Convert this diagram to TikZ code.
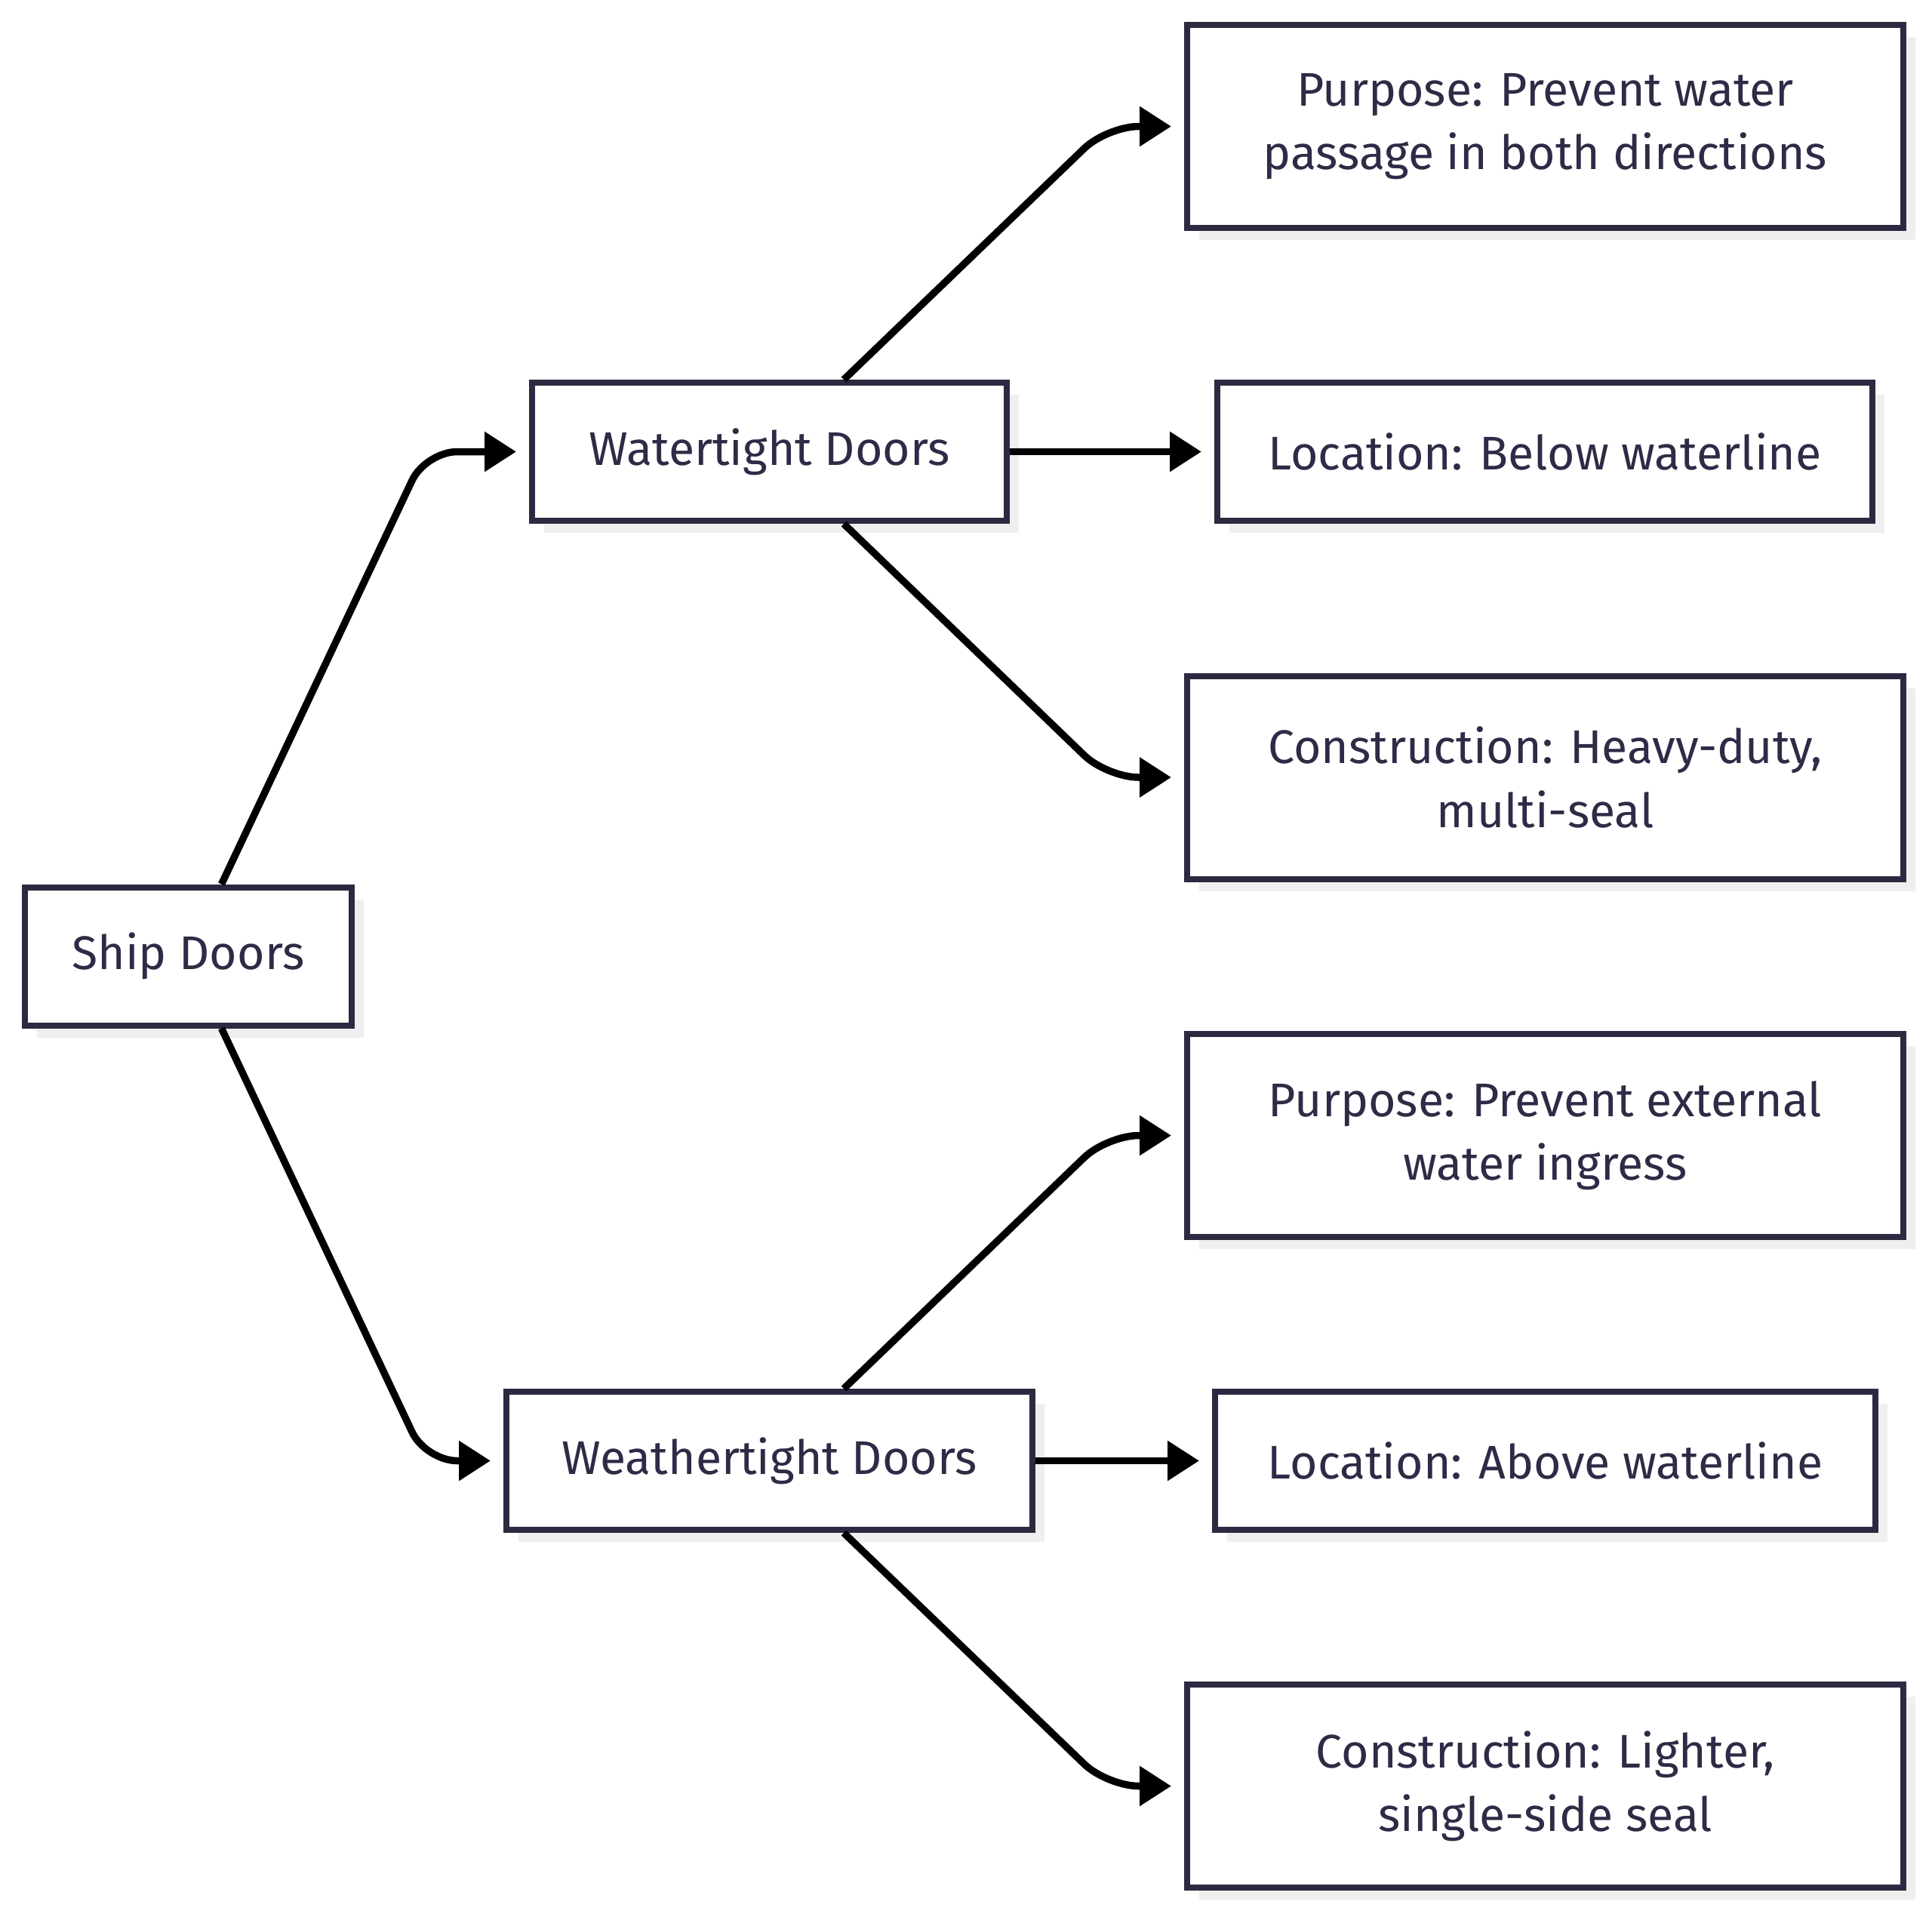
\documentclass[tikz,border=0pt]{standalone}
\usepackage{fontspec}
\setmainfont{Fira Sans}
\usetikzlibrary{shapes, arrows.meta, positioning, shadows}

\definecolor{boxline}{HTML}{2B2A40}
\definecolor{boxtext}{HTML}{2D2B45}
\definecolor{shade}{HTML}{EFEFEF}

\begin{document}
\begin{tikzpicture}
\tikzstyle{box} = [rectangle, draw=boxline, line width=0.08cm, fill=white, text=boxtext, align=center,
  minimum height=1.83cm, inner sep=0pt, font=\fontsize{17.8pt}{24pt}\selectfont,
  drop shadow={shadow xshift=0.16cm, shadow yshift=-0.16cm, fill=shade, opacity=1}]
\tikzstyle{tallbox} = [box, minimum height=2.69cm, minimum width=9.49cm]
\tikzstyle{arrow} = [line width=0.095cm, -{Triangle[length=0.42cm, width=0.51cm]}, shorten >=0.17cm, rounded corners=0.42cm]

\useasboundingbox (0,0) rectangle (25.6,-25.4);

\node [box, minimum width=4.33cm] (ship) at (2.495,-12.67) {Ship Doors};
\node [box, minimum width=6.29cm] (water) at (10.195,-5.985) {Watertight Doors};
\node [box, minimum width=6.97cm] (weather) at (10.195,-19.355) {Weathertight Doors};

\node [tallbox] (wpurpose) at (20.475,-1.675) {Purpose: Prevent water\\passage in both directions};
\node [box, minimum width=8.68cm] (wloc) at (20.47,-5.985) {Location: Below waterline};
\node [tallbox] (wcons) at (20.475,-10.30) {Construction: Heavy-duty,\\multi-seal};

\node [tallbox] (epurpose) at (20.475,-15.045) {Purpose: Prevent external\\water ingress};
\node [box, minimum width=8.75cm] (eloc) at (20.475,-19.355) {Location: Above waterline};
\node [tallbox] (econs) at (20.475,-23.665) {Construction: Lighter,\\single-side seal};

\draw [arrow] ([xshift=0.44cm]ship.north) -- ([xshift=-1.37cm]water.west) -- (water.west);
\draw [arrow] ([xshift=0.44cm]ship.south) -- ([xshift=-1.03cm]weather.west) -- (weather.west);

\draw [arrow] ([xshift=0.985cm]water.north) -- ([xshift=-1.02cm]wpurpose.west) -- (wpurpose.west);
\draw [arrow] (water.east) -- (wloc.west);
\draw [arrow] ([xshift=0.985cm]water.south) -- ([xshift=-1.02cm]wcons.west) -- (wcons.west);

\draw [arrow] ([xshift=0.985cm]weather.north) -- ([xshift=-1.02cm]epurpose.west) -- (epurpose.west);
\draw [arrow] (weather.east) -- (eloc.west);
\draw [arrow] ([xshift=0.985cm]weather.south) -- ([xshift=-1.02cm]econs.west) -- (econs.west);
\end{tikzpicture}
\end{document}
